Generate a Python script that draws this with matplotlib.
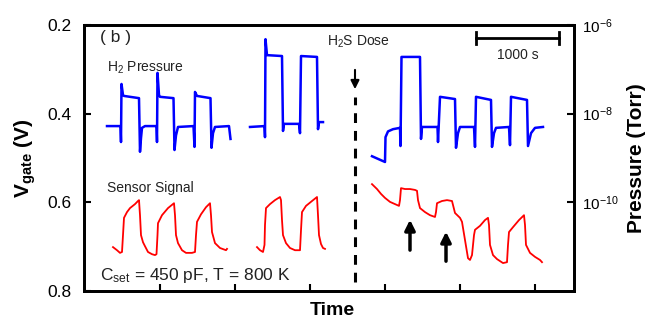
import numpy as np
import matplotlib
matplotlib.use("Agg")
import matplotlib.pyplot as plt
from matplotlib.ticker import FixedLocator, NullLocator

plt.rcParams['font.family'] = ['Liberation Sans', 'DejaVu Sans']
plt.rcParams['mathtext.fontset'] = 'custom'
plt.rcParams['mathtext.rm'] = 'Liberation Sans'
plt.rcParams['mathtext.it'] = 'Liberation Sans'
plt.rcParams['mathtext.bf'] = 'Liberation Sans:bold'

# ---------------- data (time in s, Vgate in V, pressure as log10 Torr) -------------
# H2 pressure trace, three segments
h2_t1 = [276, 438, 444, 450, 468, 480, 660, 672, 684, 696, 732, 870, 876, 882, 900, 912,
         1074, 1086, 1104, 1128, 1314, 1326, 1332, 1356, 1518, 1530, 1548, 1572, 1740, 1758]
h2_p1 = [-8.28, -8.28, -8.64, -7.33, -7.58, -7.60, -7.65, -8.86, -8.55, -8.32, -8.28, -8.28,
         -8.64, -7.08, -7.58, -7.62, -7.65, -8.82, -8.49, -8.30, -8.28, -8.75, -7.51, -7.60,
         -7.65, -8.77, -8.44, -8.30, -8.28, -8.57]
h2_t2 = [1992, 2166, 2172, 2178, 2196, 2376, 2388, 2400, 2580, 2592, 2604, 2796, 2808, 2820, 2868]
h2_p2 = [-8.30, -8.28, -8.53, -6.32, -6.68, -6.70, -8.39, -8.23, -8.23, -8.44, -6.70, -6.72,
         -8.35, -8.19, -8.19]
h2_t3 = [3456, 3612, 3618, 3648, 3708, 3792, 3798, 3810, 4032, 4044, 4056, 4242, 4248, 4272,
         4452, 4464, 4488, 4512, 4680, 4692, 4704, 4884, 4896, 4920, 4944, 5100, 5112, 5124,
         5316, 5328, 5364, 5412, 5508]
h2_p3 = [-8.96, -9.09, -8.53, -8.40, -8.35, -8.32, -8.73, -6.72, -6.72, -8.57, -8.30, -8.30,
         -8.64, -7.62, -7.67, -8.77, -8.44, -8.30, -8.30, -8.75, -7.62, -7.69, -8.75, -8.44,
         -8.32, -8.30, -8.71, -7.62, -7.69, -8.73, -8.44, -8.32, -8.30]

# Sensor signal (Vgate), three segments
sig_t1 = [348, 396, 432, 456, 468, 480, 516, 552, 612, 648, 660, 672, 684, 708, 732, 768, 816,
          852, 870, 882, 888, 936, 1008, 1080, 1092, 1104, 1128, 1176, 1224, 1296, 1332, 1344,
          1356, 1404, 1464, 1512, 1524, 1536, 1572, 1632, 1704, 1716]
sig_v1 = [0.701, 0.708, 0.714, 0.712, 0.674, 0.635, 0.622, 0.613, 0.604, 0.597, 0.595, 0.629,
          0.674, 0.690, 0.699, 0.712, 0.717, 0.719, 0.717, 0.674, 0.647, 0.629, 0.613, 0.602,
          0.629, 0.674, 0.692, 0.708, 0.714, 0.714, 0.712, 0.674, 0.644, 0.627, 0.611, 0.602,
          0.629, 0.667, 0.692, 0.703, 0.708, 0.705]
sig_t2 = [2076, 2112, 2148, 2166, 2172, 2184, 2232, 2292, 2352, 2364, 2376, 2388, 2424, 2472,
          2532, 2592, 2604, 2616, 2664, 2736, 2796, 2808, 2820, 2844, 2868, 2892]
sig_v2 = [0.701, 0.708, 0.712, 0.696, 0.651, 0.613, 0.604, 0.595, 0.588, 0.595, 0.640, 0.674,
          0.692, 0.703, 0.708, 0.708, 0.663, 0.622, 0.608, 0.597, 0.588, 0.629, 0.674, 0.694,
          0.703, 0.705]
sig_t3 = [3456, 3516, 3564, 3612, 3672, 3732, 3780, 3792, 3804, 3852, 3912, 3972, 3996, 4008,
          4032, 4092, 4152, 4212, 4224, 4236, 4296, 4356, 4416, 4428, 4452, 4512, 4536, 4572,
          4608, 4632, 4656, 4680, 4692, 4752, 4812, 4848, 4860, 4872, 4908, 4956, 5028, 5076,
          5088, 5100, 5148, 5220, 5280, 5292, 5304, 5352, 5412, 5472, 5496]
sig_v3 = [0.559, 0.570, 0.581, 0.590, 0.599, 0.604, 0.608, 0.595, 0.568, 0.570, 0.570, 0.572,
          0.574, 0.595, 0.613, 0.622, 0.629, 0.633, 0.622, 0.602, 0.597, 0.595, 0.597, 0.606,
          0.624, 0.635, 0.644, 0.685, 0.726, 0.730, 0.719, 0.674, 0.662, 0.653, 0.640, 0.635,
          0.651, 0.696, 0.719, 0.728, 0.737, 0.735, 0.696, 0.667, 0.656, 0.640, 0.629, 0.651,
          0.696, 0.714, 0.723, 0.730, 0.735]

# annotations
dose_t = 3252
dose_v = [0.780, 0.362]
dose_arrow_v = [0.295, 0.351]
up_arrow_t = [3912, 4344]
up_arrow_base = [0.714, 0.739]
up_arrow_tip = [0.633, 0.660]
scalebar_t = [4700, 5700]
scalebar_v = 0.229

xticks = [912, 1812, 2712, 3612, 4512, 5412]
left_ticks = [0.2, 0.4, 0.6, 0.8]
right_ticks = [1e-10, 1e-8, 1e-6]
right_labels = [r'$10^{-10}$', r'$10^{-8}$', r'$10^{-6}$']

# ---------------- figure ----------------
fig = plt.figure(figsize=(6.52, 3.23), dpi=100)
ax = fig.add_axes([84/652, 32/323, 490/652, 266/323])
ax2 = ax.twinx()

for a in (ax, ax2):
    for s in a.spines.values():
        s.set_linewidth(2.0)

ax.set_xlim(0, 5880)
ax.set_ylim(0.8, 0.2)
ax2.set_yscale('log')
ax2.set_ylim(1e-12, 1e-6)

ax.set_xticks(xticks)
ax.set_xticklabels([])
ax.yaxis.set_major_locator(FixedLocator(left_ticks))
ax.set_yticklabels([f'{v:.1f}' for v in left_ticks])
ax2.yaxis.set_major_locator(FixedLocator(right_ticks))
ax2.yaxis.set_minor_locator(NullLocator())
ax2.set_yticklabels(right_labels)

ax.tick_params(axis='both', direction='in', length=5, width=1.5, labelsize=12.5)
ax.tick_params(axis='y', pad=9)
ax.tick_params(axis='x', top=False)
ax2.tick_params(axis='y', direction='in', length=5, width=1.5, labelsize=11, pad=6)

red = '#ff0000'
blue = '#0000ff'
for t, v in ((sig_t1, sig_v1), (sig_t2, sig_v2), (sig_t3, sig_v3)):
    ax.plot(t, v, color=red, lw=1.3)
for t, p in ((h2_t1, h2_p1), (h2_t2, h2_p2), (h2_t3, h2_p3)):
    ax2.plot(t, 10.0 ** np.array(p), color=blue, lw=1.8)

# H2S dose dashed line and arrow
ax.plot([dose_t, dose_t], dose_v, color='black', lw=2.2, linestyle=(0, (3.2, 2.6)))
ax.annotate('', xy=(dose_t, dose_arrow_v[1]), xytext=(dose_t, dose_arrow_v[0]),
            arrowprops=dict(arrowstyle='-|>,head_width=0.25,head_length=0.5', color='black', lw=1.5))
for t, b, tip in zip(up_arrow_t, up_arrow_base, up_arrow_tip):
    ax.annotate('', xy=(t, tip), xytext=(t, b),
                arrowprops=dict(arrowstyle='-|>,head_width=0.3,head_length=0.6', color='black', lw=2.5))

# scale bar
ax.plot(scalebar_t, [scalebar_v, scalebar_v], color='black', lw=2)
for t in scalebar_t:
    ax.plot([t, t], [scalebar_v - 0.013, scalebar_v + 0.013], color='black', lw=2)
ax.text(sum(scalebar_t) / 2, 0.268, '1000 s', ha='center', va='center', fontsize=10, color='#222222')

ax.text(192, 0.228, '( b )', ha='left', va='center', fontsize=12.5, color='#222222')
ax.text(276, 0.296, r'H$_2$ Pressure', ha='left', va='center', fontsize=10, color='#222222')
ax.text(3288, 0.239, r'H$_2$S Dose', ha='center', va='center', fontsize=10, color='#222222')
ax.text(276, 0.568, 'Sensor Signal', ha='left', va='center', fontsize=10, color='#222222')
ax.text(192, 0.764, r'C$_{set}$ = 450 pF, T = 800 K', ha='left', va='center', fontsize=12.5,
        color='#222222')

ax.set_ylabel(r'V$_{\mathbf{gate}}$ (V)', fontsize=15, fontweight='bold')
ax.yaxis.set_label_coords(-0.094, 0.5)
ax2.set_ylabel('Pressure (Torr)', fontsize=15, fontweight='bold')
ax2.yaxis.set_label_coords(1.108, 0.5)
ax.set_xlabel('Time', fontsize=14, fontweight='bold')
ax.xaxis.set_label_coords(0.506, -0.042)

fig.savefig('out.png', dpi=100)
